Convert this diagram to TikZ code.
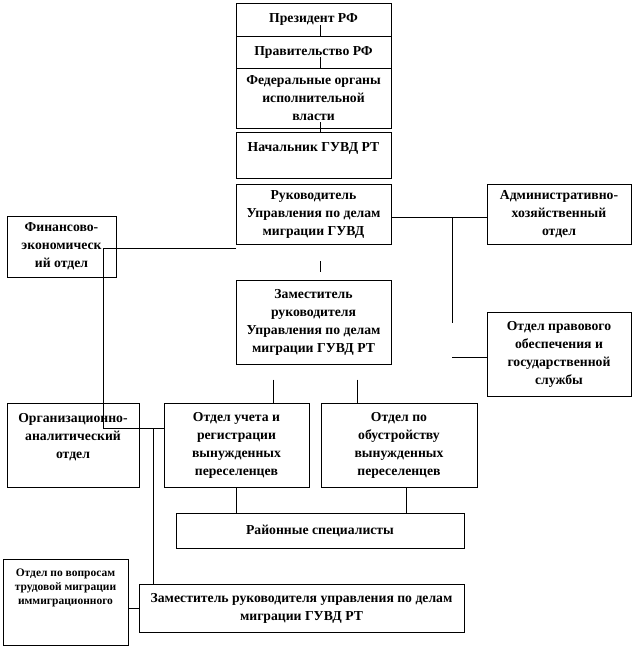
\documentclass[tikz,border=0pt]{standalone}
\usepackage{fontspec}
\setmainfont{Liberation Serif}
\usetikzlibrary{calc}
\tikzset{
  box/.style={draw, line width=0.8pt, inner sep=0pt, align=center,
    font=\bfseries\fontsize{13.7}{18}\selectfont},
  conn/.style={line width=0.8pt}
}
\begin{document}
\begin{tikzpicture}[x=1pt,y=-1pt]
\useasboundingbox (0,0) rectangle (635,648);
% center column
\node[box, minimum width=155pt, minimum height=33pt] (pres) at (313.5,19.5) {Президент РФ};
\node[box, minimum width=155pt, minimum height=32pt] (gov) at (313.5,52) {Правительство РФ};
\node[box, minimum width=155pt, minimum height=60pt] (fed) at (313.5,98) {Федеральные органы\\исполнительной\\власти};
\node[box] (chief) at (313.5,155) {\parbox[c][46pt][t]{155pt}{\centering\vspace*{11pt}Начальник ГУВД РТ}};
\node[box, minimum width=155pt, minimum height=60pt] (ruk) at (313.5,214) {Руководитель\\Управления по делам\\миграции ГУВД};
\node[box, minimum width=155pt, minimum height=84pt] (dep) at (313.5,322) {Заместитель\\руководителя\\Управления по делам\\миграции ГУВД РТ};
% right column
\node[box, minimum width=144pt, minimum height=60pt] (adm) at (559,214) {Административно-\\хозяйственный\\отдел};
\node[box, minimum width=144pt, minimum height=84pt] (legal) at (559,354) {Отдел правового\\обеспечения и\\государственной\\службы};
% left
\node[box, minimum width=109pt, minimum height=61pt] (fin) at (61.5,246.5) {Финансово-\\экономическ\\ий отдел};
\node[box] (org) at (73,445) {\parbox[c][84pt][t]{132pt}{\centering\vspace*{10pt}Организационно-\\аналитический\\отдел}};
% middle row
\node[box, minimum width=145pt, minimum height=84pt] (reg) at (236.5,445) {Отдел учета и\\регистрации\\вынужденных\\переселенцев};
\node[box, minimum width=156pt, minimum height=84pt] (arr) at (399,445) {Отдел по\\обустройству\\вынужденных\\переселенцев};
\node[box, minimum width=288pt, minimum height=35pt] (dist) at (320,530.5) {Районные специалисты};
% bottom
\node[box, font=\bfseries\fontsize{11.5}{14}\selectfont] (labor) at (65.5,602) {\parbox[c][86pt][t]{125pt}{\centering\vspace*{10pt}Отдел по вопросам\\трудовой миграции\\иммиграционного}};
\node[box, minimum width=325pt, minimum height=48pt] (zam2) at (301.5,608) {Заместитель руководителя управления по делам\\миграции ГУВД РТ};
% junction coordinates
\coordinate (spine) at (320,0);
\coordinate (j1) at (452,217);
\coordinate (j2) at (103,248);
\coordinate (j3) at (103,428);
\coordinate (j4) at (153,428);
% connectors
\draw[conn] ($(spine|-pres.south)+(0,-11)$) -- (spine|-gov.north);
\draw[conn] ($(spine|-gov.south)+(0,-11)$) -- (spine|-gov.south);
\draw[conn] ($(spine|-fed.south)+(0,-6)$) -- (spine|-chief.north);
\draw[conn] ($(spine|-ruk.south)+(0,17)$) -- ($(spine|-dep.north)+(0,-8)$);
\draw[conn] ([yshift=-3pt]ruk.east) -- ([yshift=-3pt]adm.west);
\draw[conn] (j1) -- ++(0,106);
\draw[conn] ([yshift=-3pt]legal.west) -- ++(-35,0);
\draw[conn] (j2) -- (j2 -| ruk.west);
\draw[conn] (j2) -- (j3) -- (j3 -| reg.west);
\draw[conn] (j4) -- (j4 |- zam2.north);
\draw[conn] ($(reg.north)+(36.5,-23)$) -- ($(reg.north)+(36.5,0)$);
\draw[conn] ($(arr.north)+(-42,-23)$) -- ($(arr.north)+(-42,0)$);
\draw[conn] (reg.south) -- (reg.south |- dist.north);
\draw[conn] ([xshift=7pt]arr.south) -- ([xshift=7pt]arr.south |- dist.north);
\draw[conn] (zam2.west -| labor.east) -- (zam2.west);
\end{tikzpicture}
\end{document}
